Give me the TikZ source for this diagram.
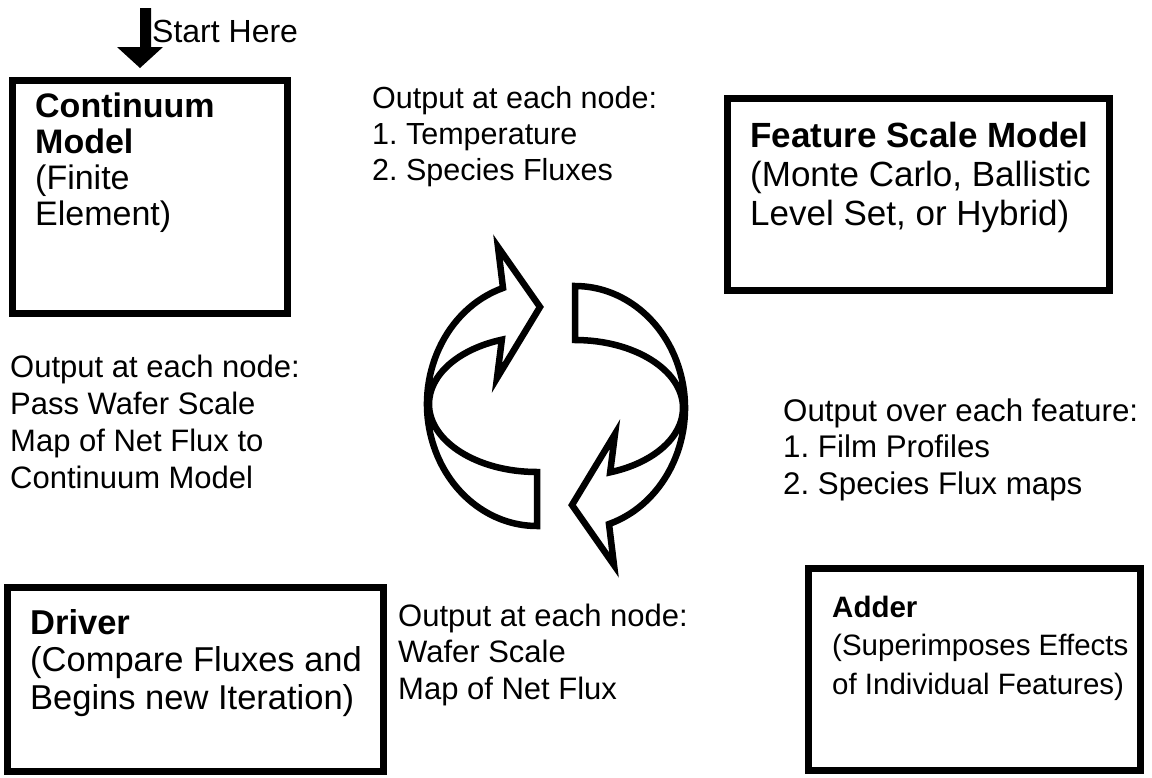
\documentclass[tikz,border=0pt]{standalone}
\usepackage{fontspec}
\setmainfont{Liberation Sans}
\frenchspacing
\begin{document}
\begin{tikzpicture}[x=1pt,y=-1pt,
  boxline/.style={draw=black, line width=7pt, line join=miter, inner sep=0pt},
  txt/.style={anchor=base west, align=left, inner sep=0pt},
  ringarrow/.style={draw=black, line width=6.5pt, line join=miter, fill=white},
  startarrow/.style={fill=black, draw=none}]
\useasboundingbox (0,0) rectangle (1152,777);
\fill[white] (0,0) rectangle (1152,777);

% boxes
\node[boxline, minimum width=275pt, minimum height=233pt] (cont) at (149.5,196.5) {};
\node[boxline, minimum width=382pt, minimum height=192pt] (feat) at (918,194) {};
\node[boxline, minimum width=376pt, minimum height=184pt] (drv) at (195,679) {};
\node[boxline, minimum width=332pt, minimum height=202pt] (add) at (974,669) {};

% start arrow
\coordinate (sa) at (140,68);
\fill[startarrow] (140,8) -- (151,8) -- (151,47) -- (163,47) -- (sa) -- (117,47) -- (140,47) -- cycle;
\node[txt, font=\fontsize{32}{36}\selectfont] (start) at (152,42) {Start Here};

% box texts (anchor = baseline of the last line)
\node[txt, font=\fontsize{34}{36}\selectfont] (conttxt) at (35,225) {\textbf{Continuum}\\\textbf{Model}\\(Finite\\Element)};
\node[txt, font=\fontsize{35}{39}\selectfont] (feattxt) at (750,225) {\textbf{Feature Scale Model}\\(Monte Carlo, Ballistic\\Level Set, or Hybrid)};
\node[txt, font=\fontsize{34.5}{37.5}\selectfont] (drvtxt) at (30,709) {\textbf{Driver}\\(Compare Fluxes and\\Begins new Iteration)};
\node[txt, font=\fontsize{29.5}{38.5}\selectfont] (addtxt) at (832,694) {\textbf{Adder}\\(Superimposes Effects\\of Individual Features)};

% labels
\node[txt, font=\fontsize{30.5}{36}\selectfont] (l1) at (372,180) {Output at each node:\\1. Temperature\\2. Species Fluxes};
\node[txt, font=\fontsize{31.3}{36.5}\selectfont] (l2) at (783,494) {Output over each feature:\\1. Film Profiles\\2. Species Flux maps};
\node[txt, font=\fontsize{31}{36.5}\selectfont] (l3) at (398,699) {Output at each node:\\Wafer Scale\\Map of Net Flux};
\node[txt, font=\fontsize{31}{37}\selectfont] (l4) at (10,488) {Output at each node:\\Pass Wafer Scale\\Map of Net Flux to\\Continuum Model};

% cycle arrows
\coordinate (rc) at (556,406);
\draw[ringarrow] (537,404) ++(-108:110 and 122) arc[start angle=-108, end angle=-270, x radius=110, y radius=122]
  -- ++(0,-54) arc[start angle=-270, end angle=-109, x radius=108, y radius=68]
  -- (497,378) -- (540,307) -- (498,247) -- cycle;
\draw[ringarrow, rotate around={180:(rc)}] (537,404) ++(-108:110 and 122) arc[start angle=-108, end angle=-270, x radius=110, y radius=122]
  -- ++(0,-54) arc[start angle=-270, end angle=-109, x radius=108, y radius=68]
  -- (497,378) -- (540,307) -- (498,247) -- cycle;
\end{tikzpicture}
\end{document}
